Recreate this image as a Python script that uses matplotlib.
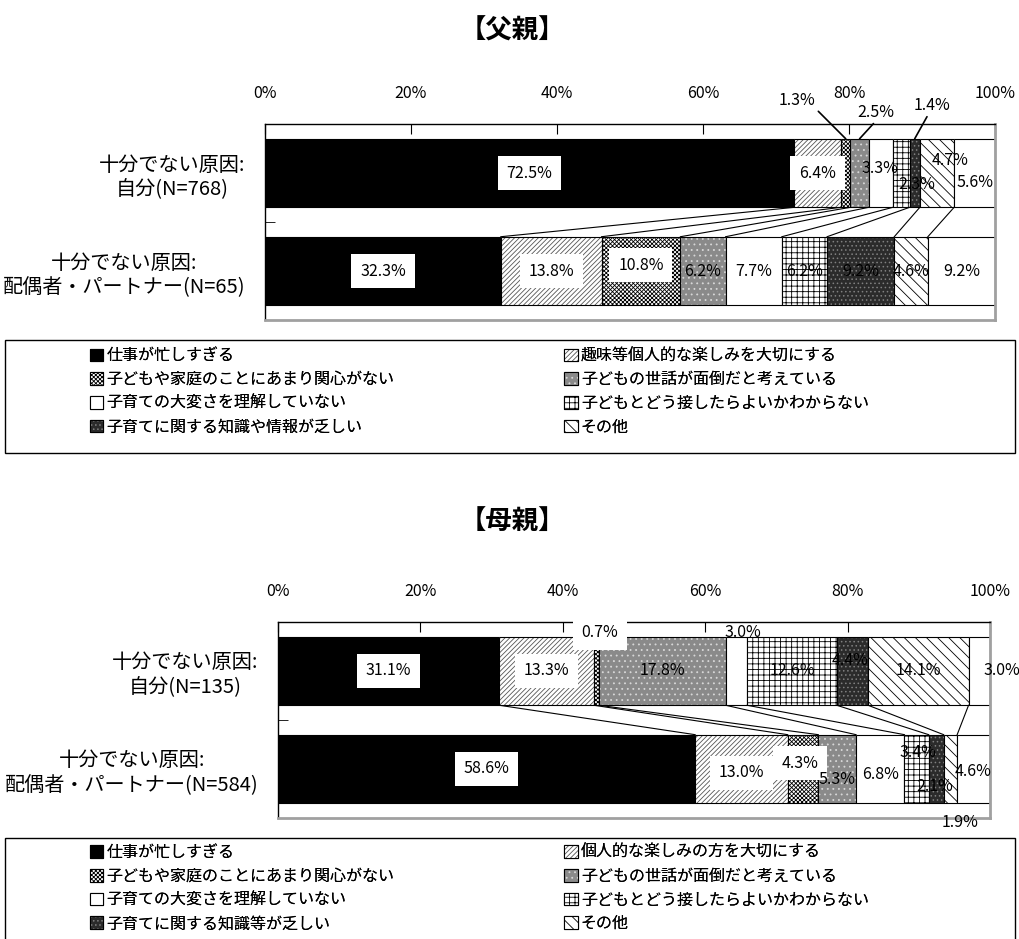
import numpy as np
import matplotlib.pyplot as plt
from matplotlib.patches import Patch, Rectangle

plt.rcParams['font.family'] = ['Noto Sans CJK JP', 'DejaVu Sans']
plt.rcParams['hatch.linewidth'] = 0.6

# 行ラベル
rows_father = ['十分でない原因:\n自分(N=768)', '十分でない原因:\n配偶者・パートナー(N=65)']
rows_mother = ['十分でない原因:\n自分(N=135)', '十分でない原因:\n配偶者・パートナー(N=584)']

# 凡例
legend_father = ['仕事が忙しすぎる', '趣味等個人的な楽しみを大切にする',
                 '子どもや家庭のことにあまり関心がない', '子どもの世話が面倒だと考えている',
                 '子育ての大変さを理解していない', '子どもとどう接したらよいかわからない',
                 '子育てに関する知識や情報が乏しい', 'その他']
legend_mother = ['仕事が忙しすぎる', '個人的な楽しみの方を大切にする',
                 '子どもや家庭のことにあまり関心がない', '子どもの世話が面倒だと考えている',
                 '子育ての大変さを理解していない', '子どもとどう接したらよいかわからない',
                 '子育てに関する知識等が乏しい', 'その他']

# 割合(%)  最後の列は無回答
father_self = [72.5, 6.4, 1.3, 2.5, 3.3, 2.3, 1.4, 4.7, 5.6]
father_partner = [32.3, 13.8, 10.8, 6.2, 7.7, 6.2, 9.2, 4.6, 9.2]
mother_self = [31.1, 13.3, 0.7, 17.8, 3.0, 12.6, 4.4, 14.1, 3.0]
mother_partner = [58.6, 13.0, 4.3, 5.3, 6.8, 3.4, 2.1, 1.9, 4.6]

# 塗り: (地の色, ハッチ, ハッチの色)
styles = [
    ('black', None, 'black'),
    ('white', '///////', '#555555'),
    ('white', 'xxxxxxxx', 'black'),
    ('#8a8a8a', '...', '#d8d8d8'),
    ('white', None, 'white'),
    ('white', '+++', 'black'),
    ('#2b2b2b', '....', '#808080'),
    ('white', '\\\\\\', 'black'),
    ('white', None, 'white'),
]

BAR_H = 0.7
LABEL_FS = 11.5

# ラベル位置の調整 {(行, 列): (x, y)}  x が None なら区間の中央
father_moved = {(0, 2): (72.9, -0.745), (0, 3): (83.7, -0.62), (0, 4): (84.2, -0.05),
                (0, 5): (89.3, 0.12), (0, 6): (91.4, -0.69), (0, 7): (93.8, -0.13),
                (0, 8): (97.3, 0.10), (1, 2): (None, 0.94)}
father_leader = {(0, 2): (1.0, 0.0), (0, 3): (0.5, 0.0), (0, 6): (0.4, 0.0)}
father_boxed = {(0, 0), (0, 1), (1, 0), (1, 1), (1, 2)}

mother_moved = {(0, 2): (45.2, -0.39), (0, 4): (65.3, -0.39), (0, 6): (80.3, -0.11),
                (0, 8): (101.7, -0.01), (1, 1): (None, 1.04), (1, 2): (73.3, 0.94),
                (1, 3): (78.5, 1.11), (1, 4): (None, 1.06), (1, 5): (89.9, 0.83),
                (1, 6): (92.3, 1.18), (1, 7): (95.8, 1.55), (1, 8): (None, 1.03)}
mother_leader = {}
mother_boxed = {(0, 0), (0, 1), (0, 2), (1, 0), (1, 1), (1, 2)}


def draw_panel(ax, rows, data, moved, leader, boxed):
    ypos = np.arange(len(rows))
    left = np.zeros(len(rows))
    for j, (fc, hatch, hc) in enumerate(styles):
        widths = np.array([d[j] for d in data])
        ax.barh(ypos, widths, left=left, height=BAR_H, color=fc, hatch=hatch,
                edgecolor=hc, linewidth=0)
        ax.barh(ypos, widths, left=left, height=BAR_H, fill=False,
                edgecolor='black', linewidth=0.8)
        left += widths

    # 区分線
    cum = [np.concatenate([[0], np.cumsum(d)]) for d in data]
    for k in range(1, len(styles)):
        ax.plot([cum[0][k], cum[1][k]], [BAR_H / 2, 1 - BAR_H / 2],
                color='black', lw=0.8)

    # データラベル
    for i, d in enumerate(data):
        for j, v in enumerate(d):
            cx = cum[i][j] + v / 2
            x, y = cx, i
            if (i, j) in moved:
                mx, my = moved[(i, j)]
                x = cx if mx is None else mx
                y = my
            bbox = None
            if (i, j) in boxed:
                bbox = dict(boxstyle='square,pad=0.55', facecolor='white', edgecolor='none')
            if (i, j) in leader:
                ax.annotate(f'{v:.1f}%', xy=(cx, -BAR_H / 2), xytext=(x, y),
                            ha='center', va='center', fontsize=LABEL_FS,
                            annotation_clip=False,
                            arrowprops=dict(arrowstyle='-', color='black', lw=1.2,
                                            shrinkA=0, shrinkB=0,
                                            relpos=leader[(i, j)]))
            else:
                ax.text(x, y, f'{v:.1f}%', ha='center', va='center', fontsize=LABEL_FS,
                        bbox=bbox, clip_on=False)

    ax.set_xlim(0, 100)
    ax.set_ylim(1.5, -0.5)
    ax.xaxis.tick_top()
    ax.set_xticks(range(0, 101, 20), [f'{t}%' for t in range(0, 101, 20)])
    ax.tick_params(axis='x', direction='in', length=7, pad=16, labelsize=11.5)
    ax.set_yticks(ypos, rows)
    ax.set_yticks([0.5], minor=True)
    ax.tick_params(axis='y', which='major', length=0, pad=14, labelsize=14.5)
    ax.tick_params(axis='y', which='minor', direction='in', length=7)
    for lbl in ax.get_yticklabels():
        lbl.set_multialignment('center')
    for s in ('top', 'left'):
        ax.spines[s].set_color('black')
        ax.spines[s].set_linewidth(1.0)
    for s in ('right', 'bottom'):
        ax.spines[s].set_color('#a0a0a0')
        ax.spines[s].set_linewidth(2.0)


def draw_legend(fig, names, frame_y, frame_h, top_y):
    fig.add_artist(Rectangle((0.005, frame_y), 0.99, frame_h, transform=fig.transFigure,
                             facecolor='none', edgecolor='black', lw=1.0))
    handles = []
    for fc, hatch, hc in styles[:8]:
        handles.append((Patch(facecolor=fc, hatch=hatch, edgecolor=hc, linewidth=0),
                        Patch(fill=False, edgecolor='black', linewidth=0.8)))
    for col, x in enumerate((0.088, 0.553)):
        idx = range(col, 8, 2)
        leg = fig.legend([handles[k] for k in idx], [names[k] for k in idx],
                         loc='upper left', bbox_to_anchor=(x, top_y), frameon=False,
                         fontsize=11.5, handlelength=0.85, handleheight=0.85,
                         handletextpad=0.2, labelspacing=0.42, borderpad=0,
                         borderaxespad=0)
        fig.add_artist(leg)


fig = plt.figure(figsize=(10.2, 9.39), dpi=100)

ax1 = fig.add_axes([0.2598, 0.6592, 0.7157, 0.2087])
draw_panel(ax1, rows_father, [father_self, father_partner],
           father_moved, father_leader, father_boxed)
ax2 = fig.add_axes([0.2725, 0.1289, 0.6980, 0.2087])
draw_panel(ax2, rows_mother, [mother_self, mother_partner],
           mother_moved, mother_leader, mother_boxed)

fig.text(0.502, 0.967, '【父親】', ha='center', va='center', fontsize=19, fontweight='bold')
fig.text(0.502, 0.445, '【母親】', ha='center', va='center', fontsize=19, fontweight='bold')

draw_legend(fig, legend_father, 0.5176, 0.1203, 0.630)
draw_legend(fig, legend_mother, -0.01, 0.1176, 0.101)

fig.savefig('out.png', dpi=100)
